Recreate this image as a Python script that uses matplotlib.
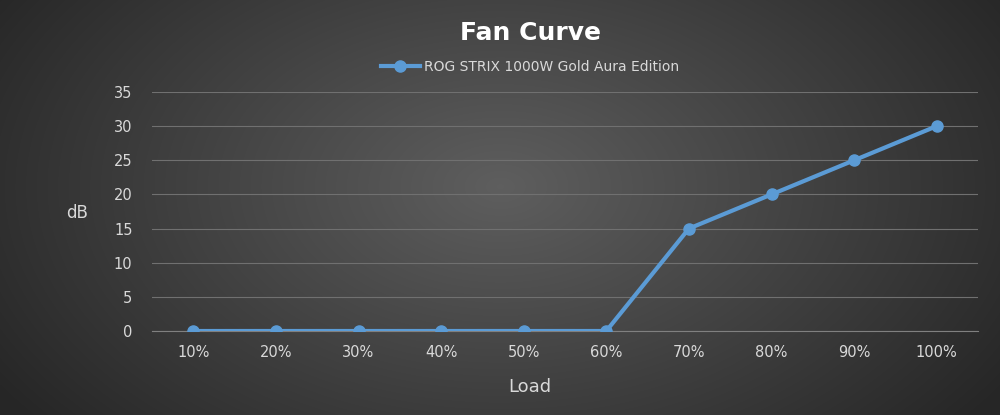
import matplotlib
matplotlib.use("Agg")
import matplotlib.pyplot as plt
import numpy as np

categories = ["10%", "20%", "30%", "40%", "50%", "60%", "70%", "80%", "90%", "100%"]
values = [0, 0, 0, 0, 0, 0, 15, 20, 25, 30]
series_name = "ROG STRIX 1000W Gold Aura Edition"

W, H = 1000, 415
fig = plt.figure(figsize=(W/100, H/100), dpi=100)

bg = fig.add_axes([0, 0, 1, 1])
yy, xx = np.mgrid[0:H, 0:W]
r = np.sqrt(((xx - W/2) / (W*0.6))**2 + ((yy - H*0.45) / (H*0.9))**2)
r = np.clip(r, 0, 1)
c = 0.37 - 0.22 * r
bg.imshow(np.dstack([c, c, c]), aspect="auto", extent=[0, 1, 0, 1])
bg.axis("off")

ax = fig.add_axes([152/W, 1 - 331/H, (978-152)/W, (331-92)/H])
ax.patch.set_alpha(0)
x = np.arange(len(categories))
ax.plot(x, values, color="#5b9bd5", lw=3, marker="o", ms=8, label=series_name, zorder=3)
ax.set_xlim(-0.5, len(categories) - 0.5)
ax.set_ylim(0, 35)
ax.set_yticks(range(0, 36, 5))
ax.set_xticks(x)
ax.set_xticklabels(categories)
ax.grid(axis="y", color="#707070", lw=0.8)
ax.set_axisbelow(True)
for s in ["top", "right", "left"]:
    ax.spines[s].set_visible(False)
ax.spines["bottom"].set_color("#808080")
ax.tick_params(colors="#d9d9d9", labelsize=10.5, length=0)
ax.tick_params(axis="x", pad=10)
ax.tick_params(axis="y", pad=14)

fig.text(0.53, 1 - 33/H, "Fan Curve", ha="center", va="center", color="white",
         fontsize=18, fontweight="bold")
fig.text(77/W, 1 - 213/H, "dB", ha="center", va="center", color="#d9d9d9", fontsize=12)
fig.text(530/W, 1 - 387/H, "Load", ha="center", va="center", color="#d9d9d9", fontsize=13)
leg = fig.legend(loc="center", bbox_to_anchor=(0.53, 1 - 67/H), frameon=False,
                 fontsize=10, handlelength=2.8, handletextpad=0.3)
for t in leg.get_texts():
    t.set_color("#d9d9d9")

fig.savefig("out.png", dpi=100)
